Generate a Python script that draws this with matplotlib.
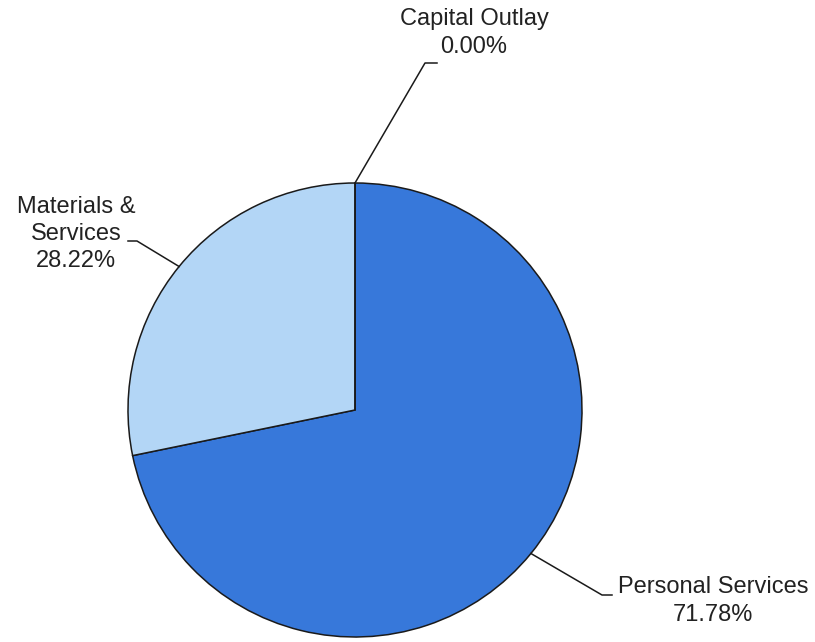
import matplotlib.pyplot as plt
import numpy as np

plt.rcParams['font.family'] = ['Liberation Sans', 'DejaVu Sans']

# Budget split by category
categories = ['Personal Services', 'Materials & Services', 'Capital Outlay']
shares = [71.78, 28.22, 0.00]
label_text = ['Personal Services', 'Materials &\nServices', 'Capital Outlay']
colors = ['#3778DA', '#B3D6F6', '#FFFFFF']

W, H = 815, 642
fig = plt.figure(figsize=(W / 100, H / 100), dpi=100)
ax = fig.add_axes([0, 0, 1, 1])

cx, cy, r = 355, 232, 227
wedges, _ = ax.pie(shares, colors=colors, startangle=90, counterclock=False,
                   center=(cx, cy), radius=r, frame=True,
                   wedgeprops=dict(edgecolor='#1a1a1a', linewidth=1.1))
ax.set_xlim(0, W)
ax.set_ylim(0, H)
ax.set_aspect('equal')
ax.axis('off')

# label placement: (text x, text y, elbow x, elbow y, end x)
layout = [
    (713, 41, 602, 47, 612),
    (76, 408, 137, 401, 128),
    (474, 609, 425, 579, 437),
]

for w, name, val, (tx, ty, ex, ey, endx) in zip(wedges, label_text, shares, layout):
    mid = np.deg2rad((w.theta1 + w.theta2) / 2)
    ax_pt = (cx + r * np.cos(mid), cy + r * np.sin(mid))
    ax.plot([ax_pt[0], ex, endx], [ax_pt[1], ey, ey], color='#1a1a1a', lw=1.1)
    ax.text(tx, ty, f'{name}\n{val:.2f}%', ha='center', va='center',
            multialignment='center', fontsize=17, color='#222222',
            linespacing=1.32)

fig.savefig('out.png', dpi=100)
